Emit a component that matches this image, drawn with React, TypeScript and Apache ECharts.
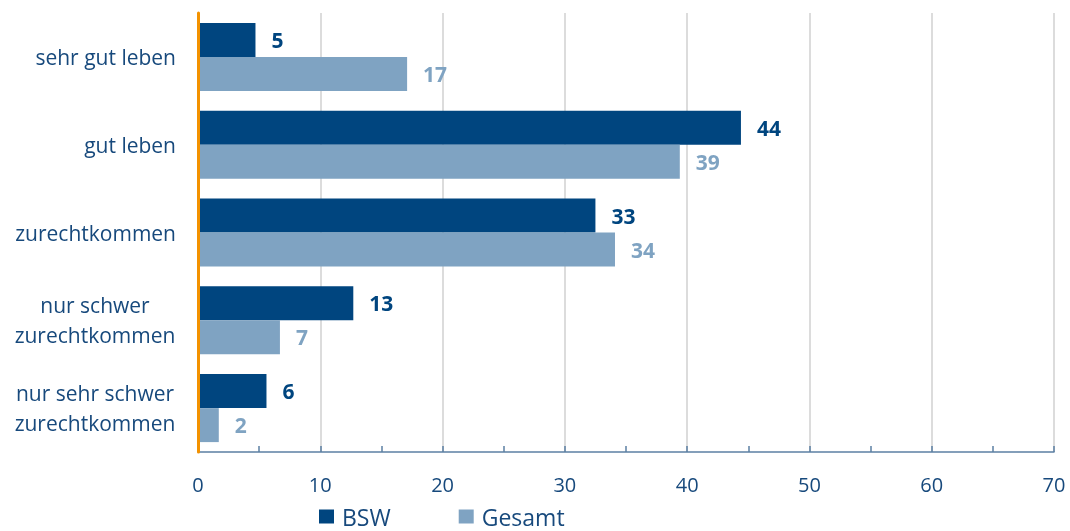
import React, { useEffect, useRef } from "react";
import * as echarts from "echarts";

const categories = [
  "sehr gut leben",
  "gut leben",
  "zurechtkommen",
  "nur schwer\nzurechtkommen",
  "nur sehr schwer\nzurechtkommen",
];
const bswValues = [4.7, 44.4, 32.5, 12.7, 5.6];
const gesamtValues = [17.1, 39.4, 34.1, 6.7, 1.7];
const seriesNames = ["BSW", "Gesamt"];

const DARK = "#00457f";
const LIGHT = "#7fa3c2";
const TEXT = "#17497c";
const FONT = "'Open Sans', sans-serif";

export default function App() {
  const ref = useRef<HTMLDivElement>(null);
  useEffect(() => {
    if (!ref.current) return;
    const chart = echarts.init(ref.current, undefined, { renderer: "svg" });
    const valueLabel = (color: string) => ({
      show: true,
      position: "right",
      distance: 16,
      color,
      fontWeight: "bold",
      fontSize: 21,
      fontFamily: FONT,
      formatter: (p: any) => String(Math.round(p.value)),
    });
    chart.setOption({
      animation: false,
      textStyle: { fontFamily: FONT },
      grid: { left: 198, right: 16, top: 13, bottom: 79, containLabel: false },
      legend: {
        data: seriesNames,
        left: 319,
        bottom: 3,
        padding: 0,
        itemWidth: 15,
        itemHeight: 14,
        itemGap: 68,
        icon: "rect",
        textStyle: { color: TEXT, fontSize: 23, fontFamily: FONT, padding: [0, 0, 0, 3] },
      },
      xAxis: {
        type: "value",
        min: 0,
        max: 70,
        interval: 10,
        axisLine: { show: true, lineStyle: { color: "#5b7fa3", width: 1.5 } },
        axisTick: { show: true, inside: true, length: 6, lineStyle: { color: "#5b7fa3", width: 1.5 } },
        minorTick: { show: true, splitNumber: 2, length: 6, lineStyle: { color: "#5b7fa3", width: 1.5 } },
        splitLine: { show: true, lineStyle: { color: "#dcdcdc", width: 2 } },
        axisLabel: { color: TEXT, fontSize: 20, margin: 22, fontFamily: FONT },
      },
      yAxis: {
        type: "category",
        inverse: true,
        z: 5,
        data: categories,
        axisLine: { show: true, lineStyle: { color: "#f39200", width: 3 } },
        axisTick: { show: false },
        axisLabel: {
          color: TEXT,
          fontSize: 21,
          margin: 22,
          lineHeight: 30,
          fontFamily: FONT,
          formatter: (v: string) =>
            v.includes("\n")
              ? v
                  .split("\n")
                  .map((l) => `{m|${l}}`)
                  .join("\n")
              : v,
          rich: {
            m: { width: 162, align: "center", color: TEXT, fontSize: 21, lineHeight: 30, fontFamily: FONT },
          },
        },
      },
      series: [
        {
          name: seriesNames[0],
          type: "bar",
          data: bswValues,
          barWidth: 34,
          barGap: "0%",
          itemStyle: { color: DARK },
          label: valueLabel(DARK),
        },
        {
          name: seriesNames[1],
          type: "bar",
          data: gesamtValues,
          barWidth: 34,
          barGap: "0%",
          itemStyle: { color: LIGHT },
          label: valueLabel(LIGHT),
        },
      ],
    });
    return () => chart.dispose();
  }, []);
  return (
    <div
      ref={ref}
      style={{ position: "fixed", left: 0, top: 0, width: 1070, height: 531 }}
    />
  );
}
